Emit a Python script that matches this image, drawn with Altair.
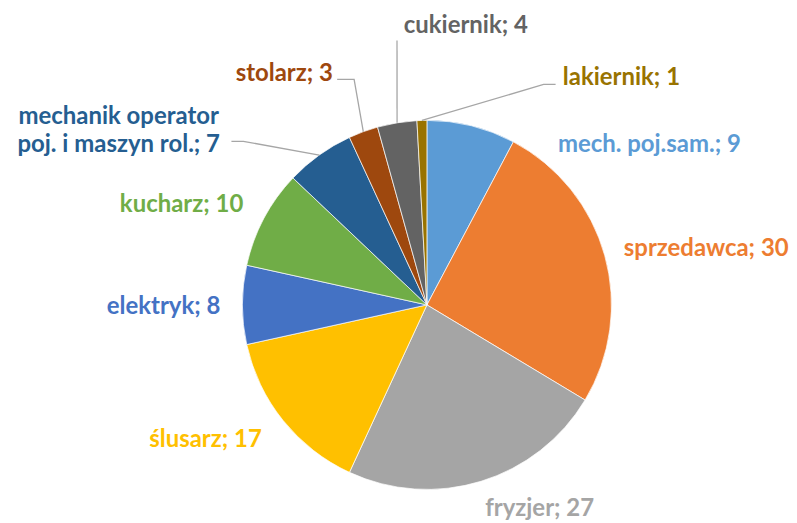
import math
import altair as alt
import pandas as pd

# ---- data ----
categories = ["mech. poj.sam.", "sprzedawca", "fryzjer", "ślusarz", "elektryk",
              "kucharz", "mechanik operator poj. i maszyn rol.", "stolarz",
              "cukiernik", "lakiernik"]
values = [9, 30, 27, 17, 8, 10, 7, 3, 4, 1]
labels = ["mech. poj.sam.; 9", "sprzedawca; 30", "fryzjer; 27", "ślusarz; 17",
          "elektryk; 8", "kucharz; 10", "mechanik operator\npoj. i maszyn rol.; 7",
          "stolarz; 3", "cukiernik; 4", "lakiernik; 1"]

# ---- styles / layout ----
colors = ["#5B9BD5", "#ED7D31", "#A5A5A5", "#FFC000", "#4472C4",
          "#70AD47", "#255E91", "#9E480E", "#636363", "#997300"]
W, H = 781, 507
CX, CY = 420, 297          # pie centre inside the view
R = 185
# label centre offsets from the pie centre (px)
label_dx = [223, 280, 113, -222, -264, -246, -309, -143, 39, 195]
label_dy = [-160, -56, 205, 135, 2, -100, -188, -231, -280, -227]
# leader line outer points (offsets from centre), for the small slices
leader_pts = {
    "mechanik operator poj. i maszyn rol.": [(-184, -164), (-196, -164)],
    "stolarz": [(-73, -226), (-90, -226)],
    "cukiernik": [(-30, -265)],
    "lakiernik": [(117, -221), (129, -221)],
}

total = sum(values)
df = pd.DataFrame({"cat": categories, "value": values, "label": labels,
                   "idx": range(len(values))})
df["lx"] = [CX + d for d in label_dx]
df["ly"] = [CY + d for d in label_dy]

# leader lines: inner end at the slice's mid angle on the rim
rows = []
cum = 0
for c, v in zip(categories, values):
    mid = (cum + v / 2) / total * 2 * math.pi
    cum += v
    if c in leader_pts:
        pts = [(R * math.sin(mid), -R * math.cos(mid))] + leader_pts[c]
        for k, (dx, dy) in enumerate(pts):
            rows.append({"cat": c, "k": k, "px": CX + dx, "py": CY + dy})
lines = pd.DataFrame(rows)

xs = alt.Scale(domain=[0, W], range=[0, W])
ys = alt.Scale(domain=[0, H], range=[0, H])
cscale = alt.Scale(domain=categories, range=colors)

pie = alt.Chart(df).mark_arc(outerRadius=R, stroke="white", strokeWidth=0.7).encode(
    theta=alt.Theta("value:Q", stack=True),
    order=alt.Order("idx:Q"),
    color=alt.Color("cat:N", scale=cscale, legend=None),
    x=alt.value(CX), y=alt.value(CY),
)

leaders = alt.Chart(lines).mark_line(color="#A6A6A6", strokeWidth=1.3).encode(
    x=alt.X("px:Q", scale=xs, axis=None),
    y=alt.Y("py:Q", scale=ys, axis=None),
    detail="cat:N",
    order="k:Q",
)

text = alt.Chart(df).mark_text(font="Lato", fontSize=24, fontWeight="bold",
                               align="center", baseline="middle",
                               lineBreak="\n", lineHeight=28).encode(
    x=alt.X("lx:Q", scale=xs, axis=None),
    y=alt.Y("ly:Q", scale=ys, axis=None),
    text="label:N",
    color=alt.Color("cat:N", scale=cscale, legend=None),
)

chart = alt.layer(pie, leaders, text).properties(
    width=W, height=H, padding=0, background="white"
).configure_view(stroke=None)

chart.save("out.html", embed_options={"renderer": "svg", "actions": False})
